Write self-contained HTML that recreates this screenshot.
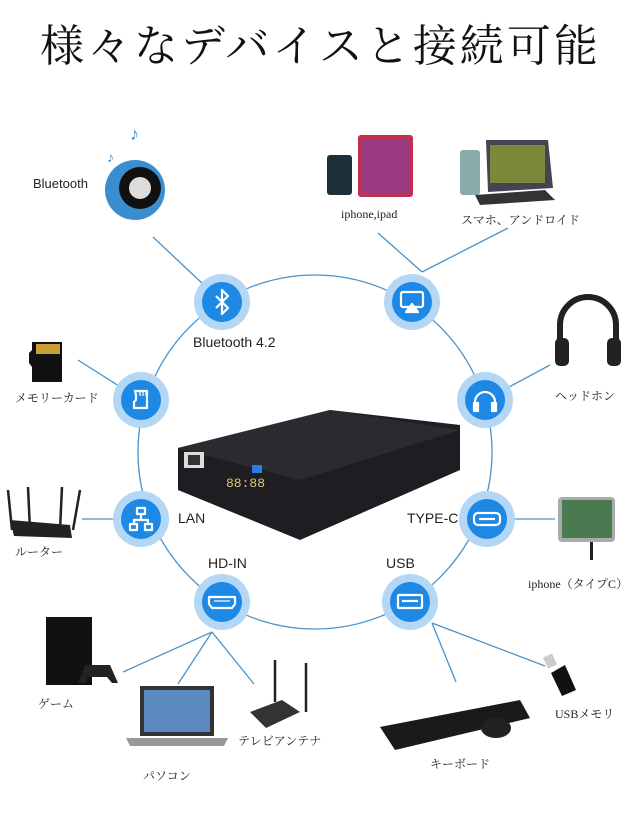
<!DOCTYPE html>
<html><head><meta charset="utf-8"><style>
html,body{margin:0;padding:0;background:#fff;width:640px;height:826px;overflow:hidden}
.t{position:absolute;white-space:nowrap}
.j{font-family:"Liberation Serif","Noto Serif CJK SC",serif;font-size:12px;color:#222}
.s{font-family:"Liberation Sans","DejaVu Sans",sans-serif;font-size:13px;color:#222}
</style></head><body>
<svg width="640" height="826" style="position:absolute;left:0;top:0">
<g stroke="#4a93c8" stroke-width="1.3" fill="none">
<circle cx="315" cy="452" r="177"/>
<line x1="153" y1="237" x2="222" y2="302"/>
<line x1="378" y1="233" x2="422" y2="272"/><line x1="508" y1="228" x2="422" y2="272"/>
<line x1="550" y1="365" x2="485" y2="400"/>
<line x1="78" y1="360" x2="141" y2="400"/>
<line x1="82" y1="519" x2="141" y2="519"/>
<line x1="487" y1="519" x2="555" y2="519"/>
<line x1="212" y1="632" x2="123" y2="672"/><line x1="212" y1="632" x2="178" y2="684"/><line x1="212" y1="632" x2="254" y2="684"/>
<line x1="432" y1="623" x2="456" y2="682"/><line x1="432" y1="623" x2="545" y2="666"/>
</g>
<g>
<g fill="#b3d7f5"><circle cx="222" cy="302" r="28"/><circle cx="412" cy="302" r="28"/><circle cx="141" cy="400" r="28"/><circle cx="485" cy="400" r="28"/><circle cx="141" cy="519" r="28"/><circle cx="487" cy="519" r="28"/><circle cx="222" cy="602" r="28"/><circle cx="410" cy="602" r="28"/></g>
<g fill="#1e88e5"><circle cx="222" cy="302" r="20"/><circle cx="412" cy="302" r="20"/><circle cx="141" cy="400" r="20"/><circle cx="485" cy="400" r="20"/><circle cx="141" cy="519" r="20"/><circle cx="487" cy="519" r="20"/><circle cx="222" cy="602" r="20"/><circle cx="410" cy="602" r="20"/></g>
<g stroke="#fff" stroke-width="2.2" fill="none" stroke-linejoin="round">
<path d="M216 296 L228 308 L222 314 L222 290 L228 296 L216 308"/>
<rect x="401" y="292" width="22" height="15" rx="2"/><path d="M406 312 L418 312 L412 304 Z" fill="#fff"/>
<path d="M135 391 h12 v17 h-13 v-6 l2 -2 v-5 z"/><path d="M140 392v4M143 392v4M146 392v4" stroke-width="1.3"/>
<path d="M475 410 v-8 a10 10 0 0 1 20 0 v8"/><rect x="474" y="403" width="4" height="8" fill="#fff"/><rect x="492" y="403" width="4" height="8" fill="#fff"/>
<rect x="137" y="508" width="8" height="6"/><rect x="130" y="524" width="7" height="6"/><rect x="145" y="524" width="7" height="6"/><path d="M141 514v5M134 524v-4h14v4"/>
<rect x="474" y="513" width="26" height="12" rx="4"/><line x1="479" y1="519" x2="495" y2="519"/>
<path d="M209 597 h26 v7 l-3 4 h-20 l-3 -4 z"/><line x1="214" y1="601" x2="230" y2="601" stroke-width="1.2"/>
<rect x="398" y="595" width="24" height="13" rx="1"/><line x1="402" y1="601" x2="418" y2="601"/>
</g>
</g>
<!-- projector -->
<path d="M178 448 L330 410 L460 425 L460 470 L300 540 L178 490 Z" fill="#1e1e22"/>
<path d="M178 448 L300 480 L460 430 L330 410 Z" fill="#2a2a30"/>
<rect x="184" y="452" width="20" height="16" fill="#ddd"/><rect x="188" y="455" width="12" height="10" fill="#333"/>
<text x="226" y="487" fill="#d8c870" font-family="Liberation Mono" font-size="13">88:88</text>
<rect x="252" y="465" width="10" height="8" fill="#2a7de0"/>
<!-- speaker -->
<circle cx="135" cy="190" r="30" fill="#3a8ed0"/><circle cx="140" cy="188" r="21" fill="#111"/><circle cx="140" cy="188" r="11" fill="#ddd"/>
<text x="130" y="140" fill="#3a8ed0" font-size="18">♪</text><text x="107" y="162" fill="#3a8ed0" font-size="14">♪</text>
<!-- iphone/ipad -->
<rect x="327" y="155" width="25" height="40" rx="3" fill="#1f2f3a"/><rect x="358" y="135" width="55" height="62" rx="3" fill="#c13050"/><rect x="362" y="139" width="47" height="54" fill="#9a3a80"/>
<rect x="460" y="150" width="20" height="45" rx="3" fill="#8aa"/><path d="M486 140 L548 140 L553 188 L488 192 Z" fill="#445"/><rect x="490" y="145" width="55" height="38" fill="#7a8a3a"/><path d="M475 195 L545 190 L555 200 L480 205 Z" fill="#333"/>
<!-- headphones -->
<path d="M560 350 v-25 a28 28 0 0 1 56 0 v25" stroke="#222" stroke-width="6" fill="none"/><rect x="555" y="338" width="14" height="28" rx="5" fill="#222"/><rect x="607" y="338" width="14" height="28" rx="5" fill="#222"/>
<!-- sd card -->
<path d="M32 342 h30 v40 h-30 v-15 l-3 -4 v-10 l3 -3 z" fill="#111"/><rect x="36" y="344" width="24" height="10" fill="#c9a030"/>
<!-- router -->
<path d="M10 520 L70 525 L72 538 L14 536 Z" fill="#222"/><g stroke="#222" stroke-width="2.5"><line x1="12" y1="530" x2="8" y2="490"/><line x1="30" y1="530" x2="28" y2="487"/><line x1="60" y1="530" x2="62" y2="487"/><line x1="73" y1="530" x2="80" y2="490"/></g>
<!-- phone -->
<rect x="558" y="497" width="57" height="45" rx="4" fill="#aaa"/><rect x="562" y="500" width="50" height="38" fill="#4a7a50"/><rect x="590" y="542" width="3" height="18" fill="#222"/>
<!-- game -->
<rect x="46" y="617" width="46" height="68" fill="#111"/><path d="M85 665 h25 l8 18 h-6 l-5 -6 h-18 l-5 6 h-6 z" fill="#222"/>
<!-- laptop -->
<rect x="140" y="686" width="74" height="50" fill="#333"/><rect x="144" y="690" width="66" height="42" fill="#5a8ac0"/><path d="M126 738 h102 l-4 8 h-94 z" fill="#999"/>
<!-- antenna -->
<path d="M250 712 L282 700 L300 712 L266 728 Z" fill="#333"/><g stroke="#222" stroke-width="2.5"><line x1="275" y1="702" x2="275" y2="660"/><line x1="306" y1="712" x2="306" y2="663"/></g>
<!-- keyboard -->
<path d="M380 727 L520 700 L530 718 L395 750 Z" fill="#1a1a1a"/><ellipse cx="496" cy="728" rx="15" ry="10" fill="#222"/>
<!-- usb -->
<path d="M551 673 L565 665 L576 690 L562 696 Z" fill="#111"/><rect x="545" y="655" width="10" height="12" fill="#ccc" transform="rotate(-25 550 661)"/>
</svg>
<div class="t" style="left:40px;top:10px;font-family:'Liberation Serif','Noto Serif CJK SC',serif;font-size:44px;letter-spacing:3px;color:#111">様々なデバイスと接続可能</div>
<div class="t s" style="left:33px;top:176px">Bluetooth</div>
<div class="t s" style="left:193px;top:334px;font-size:14px">Bluetooth 4.2</div>
<div class="t s" style="left:178px;top:510px;font-size:14px">LAN</div>
<div class="t s" style="left:407px;top:510px;font-size:14px">TYPE-C</div>
<div class="t s" style="left:208px;top:555px;font-size:14px">HD-IN</div>
<div class="t s" style="left:386px;top:555px;font-size:14px">USB</div>
<div class="t j" style="left:341px;top:207px">iphone,ipad</div>
<div class="t j" style="left:461px;top:211px">スマホ、アンドロイド</div>
<div class="t j" style="left:555px;top:387px">ヘッドホン</div>
<div class="t j" style="left:15px;top:389px">メモリーカード</div>
<div class="t j" style="left:15px;top:543px">ルーター</div>
<div class="t j" style="left:528px;top:575px">iphone（タイプC）</div>
<div class="t j" style="left:38px;top:695px">ゲーム</div>
<div class="t j" style="left:555px;top:705px">USBメモリ</div>
<div class="t j" style="left:238px;top:732px">テレビアンテナ</div>
<div class="t j" style="left:430px;top:755px">キーボード</div>
<div class="t j" style="left:143px;top:767px">パソコン</div>
</body></html>
